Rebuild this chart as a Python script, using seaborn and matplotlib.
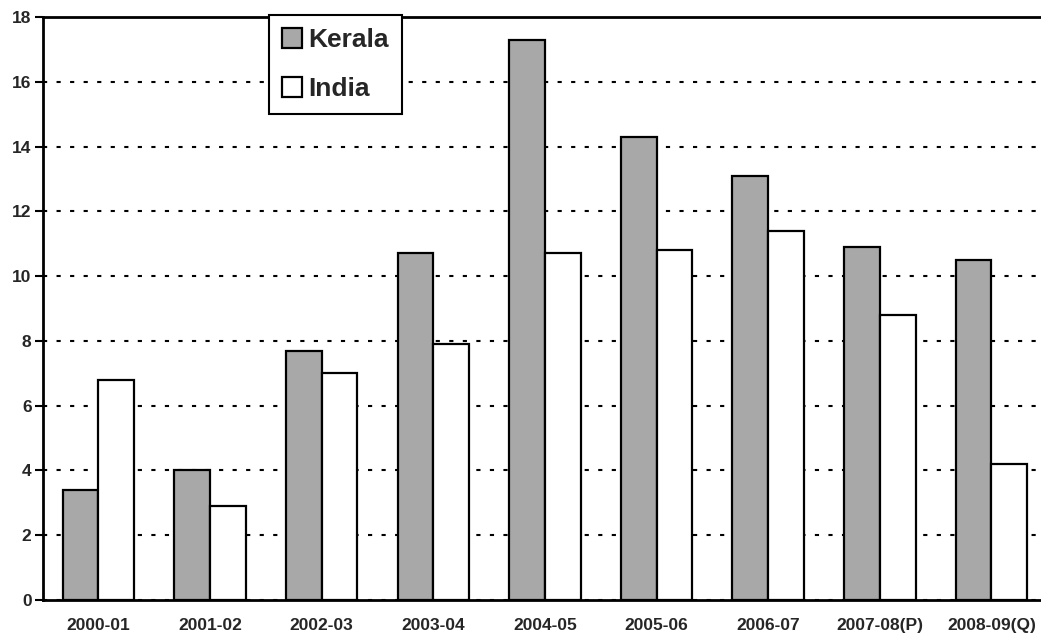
import numpy as np
import pandas as pd
import matplotlib
matplotlib.use("Agg")
import matplotlib.pyplot as plt
import seaborn as sns

# Data
years = ["2000-01", "2001-02", "2002-03", "2003-04", "2004-05",
         "2005-06", "2006-07", "2007-08(P)", "2008-09(Q)"]
kerala = [3.4, 4.0, 7.7, 10.7, 17.3, 14.3, 13.1, 10.9, 10.5]
india = [6.8, 2.9, 7.0, 7.9, 10.7, 10.8, 11.4, 8.8, 4.2]
series = ["Kerala", "India"]
y_ticks = [0, 2, 4, 6, 8, 10, 12, 14, 16, 18]

df = pd.DataFrame({
    "year": years * 2,
    "value": kerala + india,
    "region": ["Kerala"] * len(years) + ["India"] * len(years),
})

sns.set_style("white")
plt.rcParams["font.family"] = ["Liberation Sans", "DejaVu Sans"]

fig = plt.figure(figsize=(10.41, 6.38), dpi=100)
ax = fig.add_axes([0.041, 0.06, 0.965, 0.913])

sns.barplot(data=df, x="year", y="value", hue="region", hue_order=series,
            palette={"Kerala": "#a8a8a8", "India": "white"},
            edgecolor="black", linewidth=1.6, width=0.64, gap=0,
            errorbar=None, ax=ax)

ax.set_xlim(-0.5, 8.5)
ax.set_ylim(0, 18)
ax.set_yticks(y_ticks)
ax.set_xlabel("")
ax.set_ylabel("")

# dotted gridlines
ax.set_axisbelow(True)
ax.yaxis.grid(True, color="black", linestyle=(0, (2, 4.5)), linewidth=1.5)

# ticks between categories, labels under centres
ax.set_xticks(np.arange(0.5, 8.5, 1), minor=True)
ax.tick_params(axis="x", which="major", length=0, pad=13, labelsize=12.5)
ax.tick_params(axis="x", which="minor", length=8, width=1.5, direction="out", color="black")
ax.tick_params(axis="y", length=6, width=1.5, direction="out", color="black",
               left=True, labelsize=12.5, pad=2)
for lab in ax.get_xticklabels() + ax.get_yticklabels():
    lab.set_fontweight("bold")

for side in ["left", "bottom", "top"]:
    ax.spines[side].set_color("black")
    ax.spines[side].set_linewidth(2)
ax.spines["right"].set_visible(False)

handles, labels = ax.get_legend_handles_labels()
leg = ax.legend(handles, labels, loc="upper left", bbox_to_anchor=(0.225, 1.004),
                borderaxespad=0, frameon=True, fancybox=False,
                prop={"size": 19, "weight": "bold"},
                handlelength=0.75, handleheight=0.75, handletextpad=0.25,
                labelspacing=0.95, borderpad=0.5)
leg.get_frame().set_edgecolor("black")
leg.get_frame().set_linewidth(1.5)
leg.get_frame().set_alpha(1)

fig.savefig("out.png", dpi=100)
